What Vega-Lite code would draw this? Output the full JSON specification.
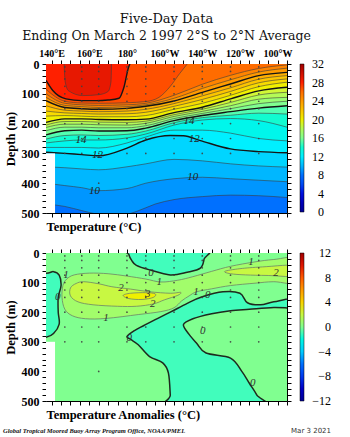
{
"$schema":"https://vega.github.io/schema/vega-lite/v6.json",
"background":"white",
"padding":{"left":3,"top":12,"right":0,"bottom":0},
"title":{"text":"Global Tropical Moored Buoy Array Program Office, NOAA/PMEL","orient":"bottom","anchor":"start","frame":"bounds","font":"Liberation Serif","fontSize":6.5,"fontStyle":"italic","fontWeight":"bold","color":"#111","offset":-6,"dx":-1},
"datasets":{
"iso":[
{"t":8,"x":137,"d":500},{"t":8,"x":265,"d":500},
{"t":9,"x":137,"d":470},{"t":9,"x":147,"d":478},{"t":9,"x":156,"d":492},{"t":9,"x":165,"d":505},{"t":9,"x":175,"d":510},{"t":9,"x":185,"d":495},{"t":9,"x":195,"d":470},{"t":9,"x":205,"d":455},{"t":9,"x":220,"d":445},{"t":9,"x":235,"d":440},{"t":9,"x":250,"d":442},{"t":9,"x":265,"d":448},
{"t":10,"x":137,"d":400},{"t":10,"x":147,"d":408},{"t":10,"x":156,"d":415},{"t":10,"x":165,"d":425},{"t":10,"x":180,"d":418},{"t":10,"x":190,"d":400},{"t":10,"x":205,"d":385},{"t":10,"x":220,"d":380},{"t":10,"x":235,"d":385},{"t":10,"x":250,"d":390},{"t":10,"x":265,"d":395},
{"t":11,"x":137,"d":345},{"t":11,"x":147,"d":348},{"t":11,"x":156,"d":352},{"t":11,"x":165,"d":355},{"t":11,"x":180,"d":345},{"t":11,"x":190,"d":335},{"t":11,"x":205,"d":320},{"t":11,"x":220,"d":325},{"t":11,"x":235,"d":335},{"t":11,"x":250,"d":342},{"t":11,"x":265,"d":346},
{"t":12,"x":137,"d":296},{"t":12,"x":147,"d":300},{"t":12,"x":156,"d":304},{"t":12,"x":165,"d":308},{"t":12,"x":180,"d":282},{"t":12,"x":190,"d":255},{"t":12,"x":203,"d":240},{"t":12,"x":210,"d":241},{"t":12,"x":219,"d":257},{"t":12,"x":235,"d":285},{"t":12,"x":250,"d":294},{"t":12,"x":265,"d":298},
{"t":13,"x":137,"d":280},{"t":13,"x":147,"d":280},{"t":13,"x":156,"d":280},{"t":13,"x":165,"d":282},{"t":13,"x":180,"d":265},{"t":13,"x":190,"d":245},{"t":13,"x":205,"d":222},{"t":13,"x":220,"d":222},{"t":13,"x":235,"d":232},{"t":13,"x":250,"d":250},{"t":13,"x":265,"d":258},
{"t":14,"x":137,"d":265},{"t":14,"x":147,"d":258},{"t":14,"x":156,"d":255},{"t":14,"x":165,"d":255},{"t":14,"x":180,"d":248},{"t":14,"x":190,"d":235},{"t":14,"x":205,"d":205},{"t":14,"x":220,"d":188},{"t":14,"x":235,"d":183},{"t":14,"x":250,"d":190},{"t":14,"x":265,"d":212},
{"t":15,"x":137,"d":252},{"t":15,"x":147,"d":240},{"t":15,"x":156,"d":238},{"t":15,"x":165,"d":240},{"t":15,"x":180,"d":236},{"t":15,"x":190,"d":225},{"t":15,"x":205,"d":197},{"t":15,"x":220,"d":180},{"t":15,"x":235,"d":172},{"t":15,"x":250,"d":165},{"t":15,"x":265,"d":168},
{"t":16,"x":137,"d":238},{"t":16,"x":147,"d":224},{"t":16,"x":156,"d":222},{"t":16,"x":165,"d":225},{"t":16,"x":180,"d":224},{"t":16,"x":190,"d":215},{"t":16,"x":205,"d":190},{"t":16,"x":220,"d":173},{"t":16,"x":235,"d":160},{"t":16,"x":250,"d":148},{"t":16,"x":265,"d":140},
{"t":17,"x":137,"d":224},{"t":17,"x":147,"d":212},{"t":17,"x":156,"d":212},{"t":17,"x":165,"d":214},{"t":17,"x":180,"d":214},{"t":17,"x":190,"d":207},{"t":17,"x":205,"d":183},{"t":17,"x":220,"d":166},{"t":17,"x":235,"d":150},{"t":17,"x":250,"d":133},{"t":17,"x":265,"d":125},
{"t":18,"x":137,"d":213},{"t":18,"x":147,"d":202},{"t":18,"x":156,"d":202},{"t":18,"x":165,"d":204},{"t":18,"x":180,"d":205},{"t":18,"x":190,"d":199},{"t":18,"x":205,"d":176},{"t":18,"x":220,"d":159},{"t":18,"x":235,"d":140},{"t":18,"x":250,"d":118},{"t":18,"x":265,"d":112},
{"t":19,"x":137,"d":205},{"t":19,"x":147,"d":193},{"t":19,"x":156,"d":193},{"t":19,"x":165,"d":195},{"t":19,"x":180,"d":196},{"t":19,"x":190,"d":192},{"t":19,"x":205,"d":170},{"t":19,"x":220,"d":152},{"t":19,"x":235,"d":129},{"t":19,"x":250,"d":104},{"t":19,"x":265,"d":95},
{"t":20,"x":137,"d":196},{"t":20,"x":147,"d":184},{"t":20,"x":156,"d":184},{"t":20,"x":165,"d":186},{"t":20,"x":180,"d":187},{"t":20,"x":190,"d":185},{"t":20,"x":205,"d":163},{"t":20,"x":220,"d":145},{"t":20,"x":235,"d":117},{"t":20,"x":250,"d":90},{"t":20,"x":265,"d":78},
{"t":21,"x":137,"d":175},{"t":21,"x":147,"d":173},{"t":21,"x":156,"d":175},{"t":21,"x":165,"d":177},{"t":21,"x":180,"d":177},{"t":21,"x":190,"d":173},{"t":21,"x":205,"d":152},{"t":21,"x":220,"d":132},{"t":21,"x":235,"d":105},{"t":21,"x":250,"d":76},{"t":21,"x":265,"d":61},
{"t":22,"x":137,"d":158},{"t":22,"x":147,"d":164},{"t":22,"x":156,"d":166},{"t":22,"x":165,"d":168},{"t":22,"x":180,"d":167},{"t":22,"x":190,"d":162},{"t":22,"x":205,"d":142},{"t":22,"x":220,"d":119},{"t":22,"x":235,"d":92},{"t":22,"x":250,"d":63},{"t":22,"x":265,"d":50},
{"t":23,"x":137,"d":140},{"t":23,"x":147,"d":155},{"t":23,"x":156,"d":158},{"t":23,"x":165,"d":160},{"t":23,"x":180,"d":158},{"t":23,"x":190,"d":152},{"t":23,"x":205,"d":133},{"t":23,"x":220,"d":107},{"t":23,"x":235,"d":80},{"t":23,"x":250,"d":51},{"t":23,"x":265,"d":39},
{"t":24,"x":137,"d":123},{"t":24,"x":147,"d":146},{"t":24,"x":156,"d":150},{"t":24,"x":165,"d":152},{"t":24,"x":180,"d":149},{"t":24,"x":190,"d":142},{"t":24,"x":205,"d":124},{"t":24,"x":220,"d":95},{"t":24,"x":235,"d":67},{"t":24,"x":250,"d":39},{"t":24,"x":265,"d":28},
{"t":25,"x":137,"d":112},{"t":25,"x":147,"d":139},{"t":25,"x":156,"d":143},{"t":25,"x":165,"d":146},{"t":25,"x":180,"d":143},{"t":25,"x":190,"d":137},{"t":25,"x":205,"d":115},{"t":25,"x":220,"d":82},{"t":25,"x":235,"d":53},{"t":25,"x":250,"d":27},{"t":25,"x":265,"d":14},
{"t":26,"x":137,"d":100},{"t":26,"x":147,"d":132},{"t":26,"x":156,"d":137},{"t":26,"x":165,"d":139},{"t":26,"x":180,"d":137},{"t":26,"x":190,"d":132},{"t":26,"x":205,"d":105},{"t":26,"x":220,"d":68},{"t":26,"x":235,"d":38},{"t":26,"x":250,"d":15},{"t":26,"x":265,"d":3},
{"t":27,"x":137,"d":85},{"t":27,"x":147,"d":125},{"t":27,"x":156,"d":131},{"t":27,"x":165,"d":132},{"t":27,"x":180,"d":130},{"t":27,"x":190,"d":126},{"t":27,"x":197,"d":112},{"t":27,"x":203,"d":75},{"t":27,"x":208,"d":32},{"t":27,"x":212,"d":0},
{"t":28,"x":137,"d":55},{"t":28,"x":140.6,"d":89},{"t":28,"x":147.6,"d":117},{"t":28,"x":156,"d":123},{"t":28,"x":163.6,"d":123},{"t":28,"x":170,"d":121},{"t":28,"x":175.8,"d":115},{"t":28,"x":178.4,"d":78},{"t":28,"x":181,"d":8},{"t":28,"x":181.6,"d":0},
{"t":29,"x":146.6,"d":0},{"t":29,"x":147.2,"d":60},{"t":29,"x":149,"d":90},{"t":29,"x":156.5,"d":106},{"t":29,"x":165,"d":103},{"t":29,"x":170,"d":92},{"t":29,"x":171.5,"d":60},{"t":29,"x":171.8,"d":0}
],
"tlab":[
{"s":"14","x":155.6,"d":255},{"s":"12","x":164.4,"d":307},{"s":"10","x":162.7,"d":425},
{"s":"14","x":213,"d":192},{"s":"12","x":215.8,"d":253},{"s":"10","x":214.9,"d":380}
],
"nodata":[{"x":137,"x2":141.8,"d":300,"d2":500}],
"bg":[{"a":0,"x":137,"x2":265,"d":0,"d2":500}],
"poly":[
{"p":"n1","a":-1,"i":0,"x":181,"d":-15},{"p":"n1","a":-1,"i":1,"x":181,"d":5},{"p":"n1","a":-1,"i":2,"x":182.5,"d":25},{"p":"n1","a":-1,"i":3,"x":185,"d":42},{"p":"n1","a":-1,"i":4,"x":192,"d":57},{"p":"n1","a":-1,"i":5,"x":203,"d":74},{"p":"n1","a":-1,"i":6,"x":212,"d":65},{"p":"n1","a":-1,"i":7,"x":219,"d":51},{"p":"n1","a":-1,"i":8,"x":221,"d":20},{"p":"n1","a":-1,"i":9,"x":221.5,"d":-15},
{"p":"nw","a":-1,"i":0,"x":128,"d":60},{"p":"nw","a":-1,"i":1,"x":137,"d":68},{"p":"nw","a":-1,"i":2,"x":141,"d":63},{"p":"nw","a":-1,"i":3,"x":144,"d":75},{"p":"nw","a":-1,"i":4,"x":145,"d":110},{"p":"nw","a":-1,"i":5,"x":143.5,"d":150},{"p":"nw","a":-1,"i":6,"x":143.5,"d":200},{"p":"nw","a":-1,"i":7,"x":144,"d":240},{"p":"nw","a":-1,"i":8,"x":141,"d":272},{"p":"nw","a":-1,"i":9,"x":137,"d":285},{"p":"nw","a":-1,"i":10,"x":128,"d":290},
{"p":"nm","a":-1,"i":0,"x":180,"d":282},{"p":"nm","a":-1,"i":1,"x":184,"d":262},{"p":"nm","a":-1,"i":2,"x":189,"d":245},{"p":"nm","a":-1,"i":3,"x":195,"d":225},{"p":"nm","a":-1,"i":4,"x":203,"d":200},{"p":"nm","a":-1,"i":5,"x":212,"d":170},{"p":"nm","a":-1,"i":6,"x":220,"d":148},{"p":"nm","a":-1,"i":7,"x":231,"d":131},{"p":"nm","a":-1,"i":8,"x":240,"d":136},{"p":"nm","a":-1,"i":9,"x":244,"d":168},{"p":"nm","a":-1,"i":10,"x":251,"d":175},{"p":"nm","a":-1,"i":11,"x":258,"d":165},{"p":"nm","a":-1,"i":12,"x":272,"d":150},{"p":"nm","a":-1,"i":13,"x":272,"d":184},{"p":"nm","a":-1,"i":14,"x":258,"d":184},{"p":"nm","a":-1,"i":15,"x":245,"d":190},{"p":"nm","a":-1,"i":16,"x":235,"d":195},{"p":"nm","a":-1,"i":17,"x":225,"d":205},{"p":"nm","a":-1,"i":18,"x":215,"d":222},{"p":"nm","a":-1,"i":19,"x":210,"d":242},{"p":"nm","a":-1,"i":20,"x":213,"d":275},{"p":"nm","a":-1,"i":21,"x":217,"d":305},{"p":"nm","a":-1,"i":22,"x":222,"d":338},{"p":"nm","a":-1,"i":23,"x":235,"d":355},{"p":"nm","a":-1,"i":24,"x":241,"d":400},{"p":"nm","a":-1,"i":25,"x":245,"d":440},{"p":"nm","a":-1,"i":26,"x":249,"d":480},{"p":"nm","a":-1,"i":27,"x":252,"d":520},{"p":"nm","a":-1,"i":28,"x":203,"d":520},{"p":"nm","a":-1,"i":29,"x":203,"d":480},{"p":"nm","a":-1,"i":30,"x":202,"d":405},{"p":"nm","a":-1,"i":31,"x":199,"d":371},{"p":"nm","a":-1,"i":32,"x":192,"d":350},{"p":"nm","a":-1,"i":33,"x":186,"d":310},{"p":"nm","a":-1,"i":34,"x":182,"d":292},
{"p":"p1","a":1,"i":0,"x":146,"d":110},{"p":"p1","a":1,"i":1,"x":148,"d":88},{"p":"p1","a":1,"i":2,"x":152,"d":74},{"p":"p1","a":1,"i":3,"x":160,"d":68},{"p":"p1","a":1,"i":4,"x":170,"d":70},{"p":"p1","a":1,"i":5,"x":180,"d":78},{"p":"p1","a":1,"i":6,"x":190,"d":88},{"p":"p1","a":1,"i":7,"x":198,"d":98},{"p":"p1","a":1,"i":8,"x":207,"d":92},{"p":"p1","a":1,"i":9,"x":215,"d":80},{"p":"p1","a":1,"i":10,"x":225,"d":62},{"p":"p1","a":1,"i":11,"x":235,"d":45},{"p":"p1","a":1,"i":12,"x":248,"d":30},{"p":"p1","a":1,"i":13,"x":258,"d":22},{"p":"p1","a":1,"i":14,"x":272,"d":18},{"p":"p1","a":1,"i":15,"x":272,"d":100},{"p":"p1","a":1,"i":16,"x":258,"d":97},{"p":"p1","a":1,"i":17,"x":248,"d":102},{"p":"p1","a":1,"i":18,"x":235,"d":110},{"p":"p1","a":1,"i":19,"x":225,"d":121},{"p":"p1","a":1,"i":20,"x":217,"d":131},{"p":"p1","a":1,"i":21,"x":213,"d":145},{"p":"p1","a":1,"i":22,"x":209,"d":162},{"p":"p1","a":1,"i":23,"x":205,"d":185},{"p":"p1","a":1,"i":24,"x":198,"d":198},{"p":"p1","a":1,"i":25,"x":186,"d":208},{"p":"p1","a":1,"i":26,"x":169,"d":221},{"p":"p1","a":1,"i":27,"x":158,"d":222},{"p":"p1","a":1,"i":28,"x":151,"d":212},{"p":"p1","a":1,"i":29,"x":147,"d":190},{"p":"p1","a":1,"i":30,"x":145.5,"d":150},
{"p":"p2w","a":2,"i":0,"x":150,"d":118},{"p":"p2w","a":2,"i":1,"x":153,"d":103},{"p":"p2w","a":2,"i":2,"x":157,"d":97},{"p":"p2w","a":2,"i":3,"x":165,"d":104},{"p":"p2w","a":2,"i":4,"x":172,"d":114},{"p":"p2w","a":2,"i":5,"x":182,"d":122},{"p":"p2w","a":2,"i":6,"x":192,"d":131},{"p":"p2w","a":2,"i":7,"x":203,"d":136},{"p":"p2w","a":2,"i":8,"x":208.5,"d":133},{"p":"p2w","a":2,"i":9,"x":207,"d":143},{"p":"p2w","a":2,"i":10,"x":200,"d":158},{"p":"p2w","a":2,"i":11,"x":194,"d":172},{"p":"p2w","a":2,"i":12,"x":185,"d":180},{"p":"p2w","a":2,"i":13,"x":175,"d":180},{"p":"p2w","a":2,"i":14,"x":162,"d":175},{"p":"p2w","a":2,"i":15,"x":154,"d":165},{"p":"p2w","a":2,"i":16,"x":150,"d":145},
{"p":"p2e","a":2,"i":0,"x":232,"d":62},{"p":"p2e","a":2,"i":1,"x":240,"d":53},{"p":"p2e","a":2,"i":2,"x":252,"d":47},{"p":"p2e","a":2,"i":3,"x":272,"d":42},{"p":"p2e","a":2,"i":4,"x":272,"d":78},{"p":"p2e","a":2,"i":5,"x":255,"d":76},{"p":"p2e","a":2,"i":6,"x":243,"d":74},{"p":"p2e","a":2,"i":7,"x":235,"d":70},
{"p":"p3","a":3,"i":0,"x":178,"d":143},{"p":"p3","a":3,"i":1,"x":182,"d":136},{"p":"p3","a":3,"i":2,"x":190,"d":134},{"p":"p3","a":3,"i":3,"x":195,"d":138},{"p":"p3","a":3,"i":4,"x":194,"d":150},{"p":"p3","a":3,"i":5,"x":188,"d":157},{"p":"p3","a":3,"i":6,"x":181,"d":154}
],
"alab":[
{"s":"1","x":147.6,"d":74},{"s":"0","x":192.8,"d":68},{"s":"1","x":197.2,"d":99},{"s":"2","x":176.8,"d":119},{"s":"3","x":191,"d":138},{"s":"2","x":193.7,"d":173},{"s":"1","x":168.9,"d":221},{"s":"0","x":143.2,"d":148},{"s":"1","x":245.9,"d":30},{"s":"2","x":259.2,"d":69},{"s":"1","x":216.7,"d":131},{"s":"0","x":222.9,"d":142},{"s":"0","x":220.2,"d":263},{"s":"0","x":181.2,"d":288},{"s":"0","x":246.8,"d":440}
],
"dots":[
{"x":147,"d":10},{"x":147,"d":25},{"x":147,"d":50},{"x":147,"d":75},{"x":147,"d":100},{"x":147,"d":125},{"x":147,"d":150},{"x":147,"d":200},{"x":147,"d":250},{"x":147,"d":300},
{"x":156,"d":10},{"x":156,"d":25},{"x":156,"d":50},{"x":156,"d":75},{"x":156,"d":100},{"x":156,"d":125},{"x":156,"d":150},{"x":156,"d":200},{"x":156,"d":250},{"x":156,"d":300},
{"x":165,"d":10},{"x":165,"d":25},{"x":165,"d":50},{"x":165,"d":75},{"x":165,"d":100},{"x":165,"d":125},{"x":165,"d":150},{"x":165,"d":200},{"x":165,"d":250},{"x":165,"d":300},{"x":165,"d":400},
{"x":180,"d":10},{"x":180,"d":25},{"x":180,"d":50},{"x":180,"d":75},{"x":180,"d":100},{"x":180,"d":125},{"x":180,"d":150},{"x":180,"d":200},{"x":180,"d":250},{"x":180,"d":300},
{"x":190,"d":10},{"x":190,"d":25},{"x":190,"d":50},{"x":190,"d":75},{"x":190,"d":100},{"x":190,"d":125},{"x":190,"d":150},{"x":190,"d":200},{"x":190,"d":250},{"x":190,"d":300},
{"x":205,"d":10},{"x":205,"d":25},{"x":205,"d":50},{"x":205,"d":75},{"x":205,"d":100},{"x":205,"d":125},{"x":205,"d":150},{"x":205,"d":200},{"x":205,"d":250},{"x":205,"d":300},
{"x":220,"d":10},{"x":220,"d":25},{"x":220,"d":50},{"x":220,"d":75},{"x":220,"d":100},{"x":220,"d":125},{"x":220,"d":150},{"x":220,"d":200},{"x":220,"d":250},{"x":220,"d":300},
{"x":235,"d":10},{"x":235,"d":25},{"x":235,"d":50},{"x":235,"d":75},{"x":235,"d":100},{"x":235,"d":125},{"x":235,"d":150},{"x":235,"d":200},{"x":235,"d":250},{"x":235,"d":300},
{"x":250,"d":10},{"x":250,"d":25},{"x":250,"d":50},{"x":250,"d":75},{"x":250,"d":100},{"x":250,"d":125},{"x":250,"d":150},{"x":250,"d":200},{"x":250,"d":250},{"x":250,"d":300}
]
},
"vconcat":[
{
"width":241,"height":149,
"title":{"text":"Five-Day Data","subtitle":"Ending On March 2 1997  2°S to 2°N Average","font":"DejaVu Serif","fontSize":13,"fontWeight":"normal","color":"#111","subtitleFont":"DejaVu Serif","subtitleFontSize":12.5,"subtitleColor":"#111","subtitlePadding":4,"anchor":"middle","frame":"group","offset":6},
"layer":[
{"data":{"name":"iso"},"mark":{"type":"area","interpolate":"monotone","clip":true},
"encoding":{
"x":{"field":"x","type":"quantitative","scale":{"domain":[137,265],"nice":false,"zero":false},"axis":{"orient":"top","values":[140,145,150,155,160,165,170,175,180,185,190,195,200,205,210,215,220,225,230,235,240,245,250,255,260,265],"labelExpr":"datum.value % 20 != 0 ? '' : datum.value < 180 ? datum.value + '°E' : datum.value == 180 ? '180°' : (360 - datum.value) + '°W'","labelFontSize":10,"labelPadding":2,"title":null}},
"y":{"field":"d","type":"quantitative","stack":null,"scale":{"domain":[0,500],"reverse":true,"nice":false,"zero":false},"axis":{"orient":"left","values":[0,20,40,60,80,100,120,140,160,180,200,220,240,260,280,300,320,340,360,380,400,420,440,460,480,500],"labelExpr":"datum.value % 100 == 0 ? datum.label : ''","title":"Depth (m)","titlePadding":4,"labelPadding":3}},
"y2":{"datum":0},
"color":{"field":"t","type":"quantitative","scale":{"domain":[0,4,8,12,16,20,24,28,32],"range":["#000000","#0010e0","#0070ff","#00f0ff","#80ff90","#f0f000","#ff9a00","#ff2000","#a00000"]},"legend":{"title":null,"values":[0,4,8,12,16,20,24,28,32],"labelOffset":8,"encode":{"labels":{"update":{"baseline":{"value":"middle"},"align":{"value":"right"},"x":{"value":24}}}}}}
}},
{"data":{"name":"iso"},"transform":[{"filter":"datum.t >= 9 && datum.t % 4 != 0"}],"mark":{"type":"line","interpolate":"monotone","clip":true,"stroke":"#3c3c3c","strokeWidth":0.6},
"encoding":{
"x":{"field":"x","type":"quantitative","scale":{"domain":[137,265],"nice":false,"zero":false},"axis":{"orient":"bottom","values":[140,145,150,155,160,165,170,175,180,185,190,195,200,205,210,215,220,225,230,235,240,245,250,255,260,265],"labels":false,"title":"Temperature   (°C)","titleAnchor":"start","titlePadding":3}},
"y":{"field":"d","type":"quantitative","scale":{"domain":[0,500],"reverse":true,"nice":false,"zero":false},"axis":{"orient":"right","values":[0,20,40,60,80,100,120,140,160,180,200,220,240,260,280,300,320,340,360,380,400,420,440,460,480,500],"labels":false,"title":null}},
"detail":{"field":"t","type":"nominal"}
}},
{"data":{"name":"iso"},"transform":[{"filter":"datum.t >= 12 && datum.t % 4 == 0"}],"mark":{"type":"line","interpolate":"monotone","clip":true,"stroke":"#151515","strokeWidth":1.4},
"encoding":{
"x":{"field":"x","type":"quantitative","axis":null},
"y":{"field":"d","type":"quantitative","axis":null},
"detail":{"field":"t","type":"nominal"}
}},
{"data":{"name":"nodata"},"mark":{"type":"rect","fill":"white"},
"encoding":{"x":{"field":"x","type":"quantitative","axis":null},"x2":{"field":"x2"},"y":{"field":"d","type":"quantitative","axis":null},"y2":{"field":"d2"}}},
{"data":{"name":"dots"},"mark":{"type":"point","filled":true,"size":3,"color":"#404040","opacity":0.9},
"encoding":{"x":{"field":"x","type":"quantitative","axis":null},"y":{"field":"d","type":"quantitative","axis":null}}},
{"data":{"name":"tlab"},"mark":{"type":"text","font":"Liberation Serif","fontStyle":"italic","fontSize":11,"color":"#222"},
"encoding":{"x":{"field":"x","type":"quantitative","axis":null},"y":{"field":"d","type":"quantitative","axis":null},"text":{"field":"s"}}}
]
},
{
"width":241,"height":148,
"title":{"text":"Mar  3 2021","orient":"bottom","anchor":"end","frame":"bounds","font":"DejaVu Sans","fontSize":7,"fontWeight":"normal","color":"#333","offset":6},
"layer":[
{"data":{"name":"bg"},"mark":{"type":"rect"},
"encoding":{
"x":{"field":"x","type":"quantitative","scale":{"domain":[137,265],"nice":false,"zero":false},"axis":{"orient":"top","values":[140,145,150,155,160,165,170,175,180,185,190,195,200,205,210,215,220,225,230,235,240,245,250,255,260,265],"labels":false,"title":null}},
"x2":{"field":"x2"},
"y":{"field":"d","type":"quantitative","scale":{"domain":[0,500],"reverse":true,"nice":false,"zero":false},"axis":{"orient":"left","values":[0,20,40,60,80,100,120,140,160,180,200,220,240,260,280,300,320,340,360,380,400,420,440,460,480,500],"labelExpr":"datum.value % 100 == 0 ? datum.label : ''","title":"Depth (m)","titlePadding":4,"labelPadding":3}},
"y2":{"field":"d2"},
"color":{"field":"a","type":"quantitative","scale":{"domain":[-12,-9,-6,-3,0,3,6,9,12],"range":["#000000","#0010e0","#0070ff","#00f0ff","#80ff90","#f0f000","#ff9a00","#ff2000","#a00000"]},"legend":{"title":null,"values":[-12,-8,-4,0,4,8,12],"labelOffset":10,"encode":{"labels":{"update":{"baseline":{"value":"middle"},"align":{"value":"right"},"x":{"value":31}}}}}}
}},
{"data":{"name":"poly"},"mark":{"type":"line","filled":true,"interpolate":"cardinal-closed","clip":true},
"encoding":{
"x":{"field":"x","type":"quantitative","scale":{"domain":[137,265],"nice":false,"zero":false},"axis":{"orient":"bottom","values":[140,145,150,155,160,165,170,175,180,185,190,195,200,205,210,215,220,225,230,235,240,245,250,255,260,265],"labels":false,"title":"Temperature Anomalies (°C)","titleAnchor":"start","titlePadding":3}},
"y":{"field":"d","type":"quantitative","scale":{"domain":[0,500],"reverse":true,"nice":false,"zero":false},"axis":{"orient":"right","values":[0,20,40,60,80,100,120,140,160,180,200,220,240,260,280,300,320,340,360,380,400,420,440,460,480,500],"labels":false,"title":null}},
"color":{"field":"a","type":"quantitative"},
"detail":{"field":"p","type":"nominal"},
"order":{"field":"i","type":"quantitative"},
"stroke":{"condition":{"test":"datum.a < 0","value":"#1e2a1e"},"value":"#6f8466"},
"strokeWidth":{"condition":{"test":"datum.a < 0","value":1.5},"value":0.8}
}},
{"data":{"name":"nodata"},"mark":{"type":"rect","fill":"white"},
"encoding":{"x":{"field":"x","type":"quantitative","axis":null},"x2":{"field":"x2"},"y":{"field":"d","type":"quantitative","axis":null},"y2":{"field":"d2"}}},
{"data":{"name":"dots"},"mark":{"type":"point","filled":true,"size":3,"color":"#404040","opacity":0.9},
"encoding":{"x":{"field":"x","type":"quantitative","axis":null},"y":{"field":"d","type":"quantitative","axis":null}}},
{"data":{"name":"alab"},"mark":{"type":"text","font":"Liberation Serif","fontStyle":"italic","fontSize":11,"color":"#333"},
"encoding":{"x":{"field":"x","type":"quantitative","axis":null},"y":{"field":"d","type":"quantitative","axis":null},"text":{"field":"s"}}}
]
}
],
"spacing":14,
"resolve":{"scale":{"color":"independent"},"legend":{"color":"independent"}},
"config":{
"view":{"stroke":null},
"axis":{"domainColor":"#000","tickColor":"#000","tickSize":4,"labelFont":"Liberation Serif","labelFontWeight":"bold","labelFontSize":12,"labelColor":"#000","labelOverlap":false,"labelFlush":false,"titleFont":"Liberation Serif","titleFontWeight":"bold","titleFontSize":12.5,"titleColor":"#000","grid":false},
"legend":{"gradientLength":148,"gradientThickness":4,"offset":8,"labelFont":"Liberation Serif","labelFontSize":12,"labelColor":"#000","labelOverlap":false,"gradientStrokeColor":"#000","gradientStrokeWidth":0.5}
}
}
